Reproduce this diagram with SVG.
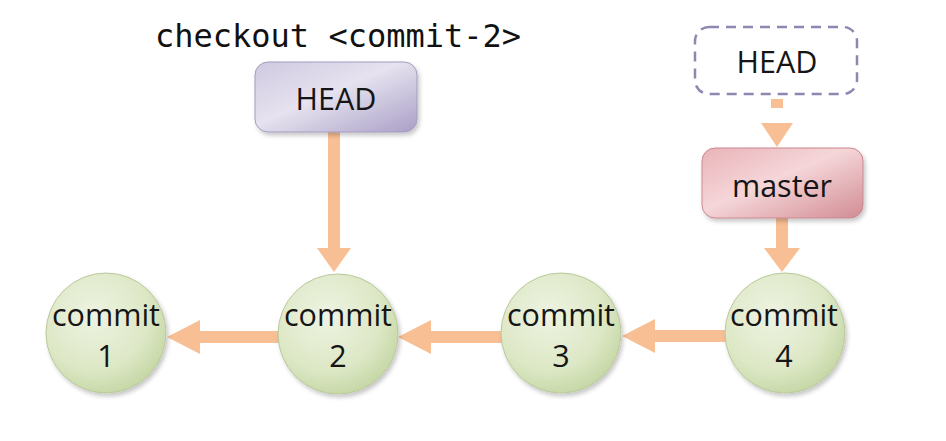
<svg xmlns="http://www.w3.org/2000/svg" width="946" height="441" viewBox="0 0 946 441">
  <defs>
    <radialGradient id="gCommit" cx="0.4" cy="0.35" r="0.75">
      <stop offset="0" stop-color="#eef3e2"/>
      <stop offset="0.6" stop-color="#dde8c6"/>
      <stop offset="1" stop-color="#bfd29c"/>
    </radialGradient>
    <linearGradient id="gHead" x1="0" y1="0" x2="1" y2="1">
      <stop offset="0" stop-color="#cfc9e0"/>
      <stop offset="0.45" stop-color="#e6e2ef"/>
      <stop offset="1" stop-color="#a99fc6"/>
    </linearGradient>
    <linearGradient id="gMaster" x1="0" y1="0" x2="1" y2="1">
      <stop offset="0" stop-color="#e9b3b8"/>
      <stop offset="0.45" stop-color="#f5d6d9"/>
      <stop offset="1" stop-color="#d18c93"/>
    </linearGradient>
    <filter id="shadow" x="-20%" y="-20%" width="140%" height="150%">
      <feDropShadow dx="2" dy="3" stdDeviation="2" flood-color="#000" flood-opacity="0.22"/>
    </filter>
  </defs>
  <style>
    .lbl { font-family: "Open Sans", "Liberation Sans", sans-serif; font-size: 30.5px; fill: #151515; text-anchor: middle; }
    .cmd { font-family: "DejaVu Sans Mono", "Liberation Mono", monospace; font-size: 32px; fill: #111; }
    .commit { fill: url(#gCommit); stroke: #b9c99a; stroke-width: 1; filter: url(#shadow); }
    .arrow { fill: #f9bf94; stroke: none; }
    .shaft { stroke: #f9bf94; stroke-width: 12; fill: none; }
  </style>
  <rect width="946" height="441" fill="#ffffff"/>

  <text class="cmd" x="155" y="47">checkout &lt;commit-2&gt;</text>

  <g id="connectors">
    <!-- commit 2 -> commit 1 -->
    <line class="shaft" x1="280" y1="337" x2="198" y2="337"/>
    <polygon class="arrow" points="167,337 200,320 200,354"/>
    <!-- commit 3 -> commit 2 -->
    <line class="shaft" x1="503" y1="337" x2="428" y2="337"/>
    <polygon class="arrow" points="398,337 431,320 431,354"/>
    <!-- commit 4 -> commit 3 -->
    <line class="shaft" x1="727" y1="336" x2="653" y2="336"/>
    <polygon class="arrow" points="622,336 655,319 655,353"/>
    <!-- HEAD -> commit 2 -->
    <line class="shaft" x1="334" y1="130" x2="334" y2="250"/>
    <polygon class="arrow" points="334,272 317,248 351,248"/>
    <!-- master -> commit 4 -->
    <line class="shaft" x1="782" y1="215" x2="782" y2="250"/>
    <polygon class="arrow" points="782,272 764,248 800,248"/>
    <!-- dashed HEAD -> master -->
    <line class="shaft" x1="777" y1="99" x2="777" y2="125" stroke-dasharray="9 30"/>
    <polygon class="arrow" points="777,147 761,123 793,123"/>
  </g>

  <g id="head-detached">
    <rect x="255" y="62" width="162" height="70" rx="13" fill="url(#gHead)" stroke="#a49cc0" stroke-width="1" filter="url(#shadow)"/>
    <text class="lbl" x="336" y="110">HEAD</text>
  </g>

  <g id="head-old">
    <rect x="695" y="27" width="162" height="67" rx="14" fill="#ffffff" stroke="#8d88b0" stroke-width="2.5" stroke-dasharray="10 7"/>
    <text class="lbl" x="777" y="73">HEAD</text>
  </g>

  <g id="master">
    <rect x="702" y="148" width="161" height="70" rx="13" fill="url(#gMaster)" stroke="#c98890" stroke-width="1" filter="url(#shadow)"/>
    <text class="lbl" x="782" y="197">master</text>
  </g>

  <g id="commit1">
    <circle class="commit" cx="106" cy="333" r="60"/>
    <text class="lbl" x="106" y="326">commit</text>
    <text class="lbl" x="106" y="367">1</text>
  </g>
  <g id="commit2">
    <circle class="commit" cx="338" cy="334" r="60"/>
    <text class="lbl" x="338" y="326">commit</text>
    <text class="lbl" x="338" y="367">2</text>
  </g>
  <g id="commit3">
    <circle class="commit" cx="561" cy="333" r="60"/>
    <text class="lbl" x="561" y="326">commit</text>
    <text class="lbl" x="561" y="367">3</text>
  </g>
  <g id="commit4">
    <circle class="commit" cx="785" cy="333" r="60"/>
    <text class="lbl" x="784" y="326">commit</text>
    <text class="lbl" x="784" y="367">4</text>
  </g>
</svg>
